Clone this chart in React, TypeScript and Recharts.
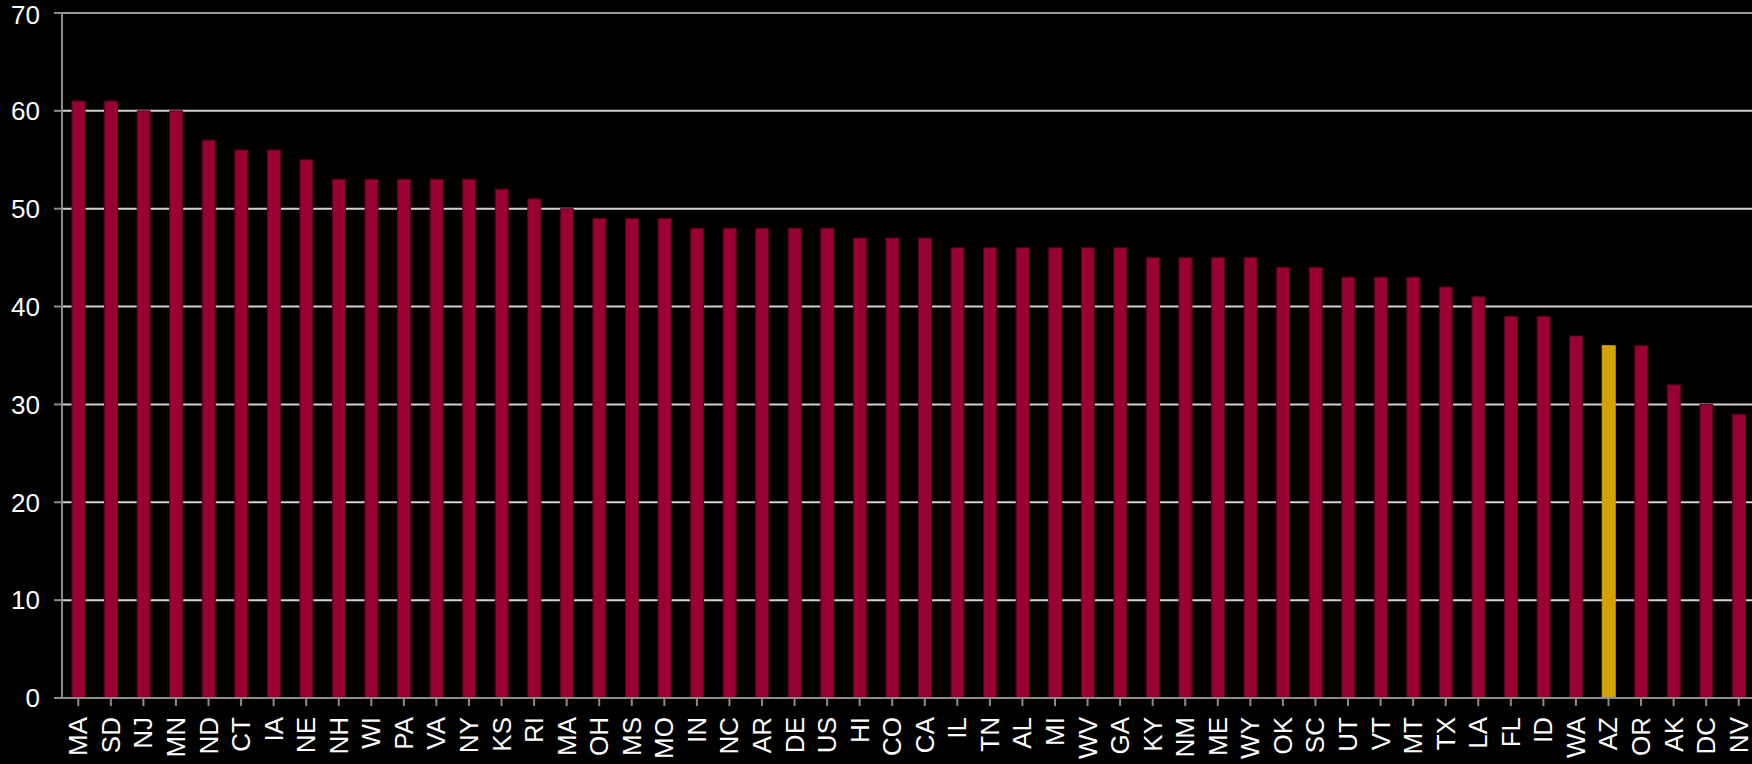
import { BarChart, Bar, XAxis, YAxis, CartesianGrid, ReferenceLine, Cell } from 'recharts';

const states = [
  'MA', 'SD', 'NJ', 'MN', 'ND', 'CT', 'IA', 'NE', 'NH', 'WI', 'PA', 'VA', 'NY', 'KS', 'RI', 'MA', 'OH',
  'MS', 'MO', 'IN', 'NC', 'AR', 'DE', 'US', 'HI', 'CO', 'CA', 'IL', 'TN', 'AL', 'MI', 'WV', 'GA', 'KY',
  'NM', 'ME', 'WY', 'OK', 'SC', 'UT', 'VT', 'MT', 'TX', 'LA', 'FL', 'ID', 'WA', 'AZ', 'OR', 'AK', 'DC', 'NV',
];
const values = [
  61, 61, 60, 60, 57, 56, 56, 55, 53, 53, 53, 53, 53, 52, 51, 50, 49,
  49, 49, 48, 48, 48, 48, 48, 47, 47, 47, 46, 46, 46, 46, 46, 46, 45,
  45, 45, 45, 44, 44, 43, 43, 43, 42, 41, 39, 39, 37, 36, 36, 32, 30, 29,
];
const highlight = 'AZ';
const yTicks = [0, 10, 20, 30, 40, 50, 60, 70];

const data = states.map((s, i) => ({ id: i, state: s, value: values[i] }));

const XTick = ({ x, y, payload }: any) => (
  <text
    x={x}
    y={y}
    transform={`rotate(-90, ${x}, ${y + 9})`}
    dy={9}
    textAnchor="end"
    dominantBaseline="central"
    fill="#ffffff"
    fontSize={26}
    fontFamily="'Liberation Sans', Arial, sans-serif"
  >
    {states[payload.value]}
  </text>
);

function App() {
  return (
    <div style={{ position: 'absolute', left: 0, top: 0, width: 1760, height: 764, background: '#000', overflow: 'hidden' }}>
      <BarChart width={1760} height={764} data={data} margin={{ top: 13, right: 5, left: 0, bottom: 0 }}>
        <CartesianGrid vertical={false} stroke="#d2d2d2" strokeWidth={2} />
        <ReferenceLine y={70} stroke="#999999" strokeWidth={2} />
        <XAxis
          dataKey="id"
          interval={0}
          height={66}
          tick={<XTick />}
          tickSize={8}
          stroke="#8c8c8c"
          strokeWidth={2}
          tickLine={{ stroke: '#8c8c8c', strokeWidth: 2 }}
        />
        <YAxis
          domain={[0, 70]}
          ticks={yTicks}
          width={62}
          tickSize={8}
          tickMargin={14}
          stroke="#8c8c8c"
          strokeWidth={2}
          tickLine={{ stroke: '#8c8c8c', strokeWidth: 2 }}
          tick={{ fill: '#ffffff', fontSize: 26, fontFamily: "'Liberation Sans', Arial, sans-serif" }}
        />
        <Bar dataKey="value" barSize={13} isAnimationActive={false} stroke="#5a0020" strokeWidth={1}>
          {data.map((d) => (
            <Cell
              key={d.id}
              fill={d.state === highlight ? '#d4a300' : '#990033'}
              stroke={d.state === highlight ? '#d4a300' : '#5a0020'}
            />
          ))}
        </Bar>
      </BarChart>
    </div>
  );
}

export default App;
